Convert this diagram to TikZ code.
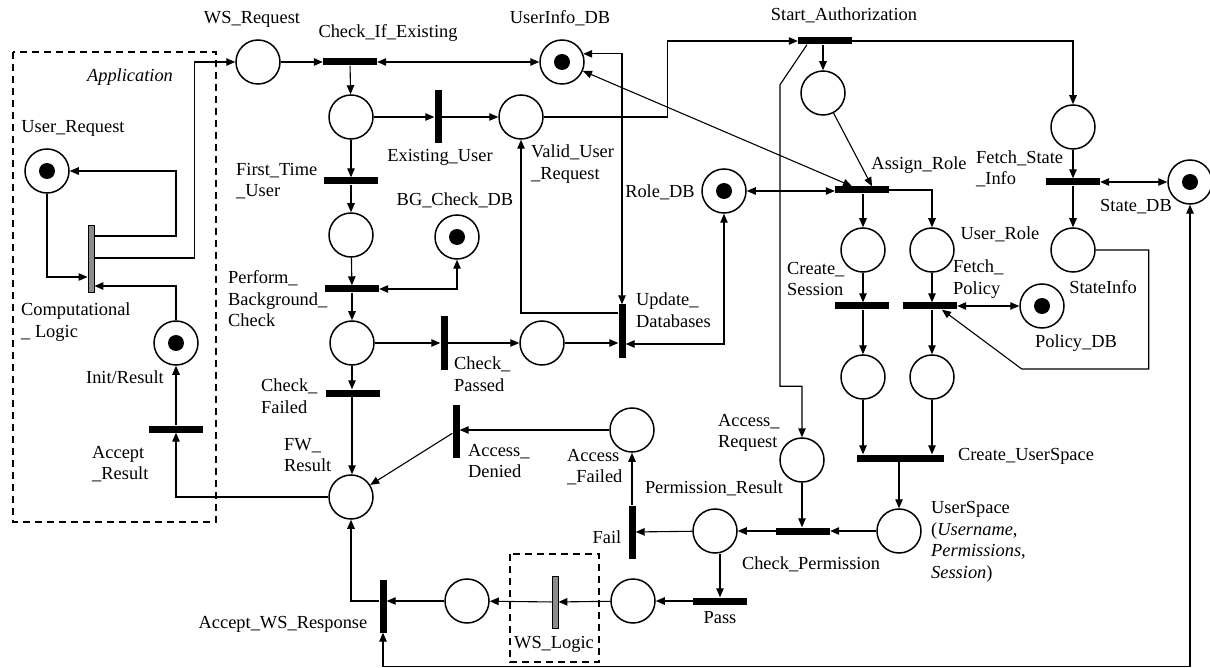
\documentclass[tikz,border=0pt]{standalone}
\usepackage{fontspec}
\setmainfont{Liberation Serif}
\usetikzlibrary{arrows.meta}
\begin{document}
\begin{tikzpicture}[x=1pt,y=-1pt,
  font=\fontsize{18.4}{21.5}\selectfont,
  plc/.style={circle,draw,line width=1.5pt,minimum size=44pt,inner sep=0pt},
  tok/.style={path picture={\fill (path picture bounding box.center) circle (8pt);}},
  htrans/.style={rectangle,fill=black,minimum width=54pt,minimum height=7pt,inner sep=0pt},
  vtrans/.style={rectangle,fill=black,minimum width=7pt,minimum height=53pt,inner sep=0pt},
  gtrans/.style={rectangle,fill=black!45,draw=black,line width=0.9pt,minimum width=6pt,minimum height=52pt,inner sep=0pt},
  flow/.style={line width=1.1pt,-{Triangle[length=9pt,width=7.5pt]}},
  dflow/.style={line width=1.1pt,{Triangle[length=9pt,width=7.5pt]}-{Triangle[length=9pt,width=7.5pt]}},
  lbl/.style={inner sep=0pt},
  lblw/.style={inner sep=0pt,anchor=west,align=left},
  dbox/.style={line width=1.3pt,dash pattern=on 7pt off 5pt}
]
\useasboundingbox[fill=white] (0,0) rectangle (1210,668);

% dashed boxes
\draw[dbox] (13,52) rectangle (216,522);
\draw[dbox] (510,554) rectangle (599,662);

% places
\node[plc] (pWS) at (258,62) {};
\node[plc,tok] (pUI) at (562,62) {};
\node[plc] (p2) at (351,117) {};
\node[plc] (pVU) at (521,117) {};
\node[plc] (p3) at (351,235) {};
\node[plc,tok] (pBG) at (457,237) {};
\node[plc] (p4) at (352,343) {};
\node[plc] (p11) at (542,343) {};
\node[plc,tok] (pRole) at (724,191) {};
\node[plc] (pFW) at (351,497) {};
\node[plc] (pAF) at (632,430) {};
\node[plc] (p14) at (823,93) {};
\node[plc] (pFS) at (1073,127) {};
\node[plc,tok] (pState) at (1190,182) {};
\node[plc] (pCS) at (863,250) {};
\node[plc] (pURole) at (932,250) {};
\node[plc] (pSI) at (1073,250) {};
\node[plc,tok] (pPol) at (1042,306) {};
\node[plc] (p21) at (863,377) {};
\node[plc] (p22) at (932,377) {};
\node[plc] (pUS) at (899,531) {};
\node[plc] (pAR) at (802,460) {};
\node[plc] (pPR) at (715,531) {};
\node[plc] (p26) at (633,601) {};
\node[plc] (p27) at (467,601) {};
\node[plc,tok] (pUReq) at (47,171) {};
\node[plc,tok] (pIR) at (176,343) {};

% transitions
\node[htrans] (tCIE) at (350,62) {};
\node[vtrans] (tEU) at (438,117) {};
\node[htrans] (tFTU) at (351,181) {};
\node[htrans] (tPBC) at (352,289) {};
\node[vtrans] (tCP) at (444,343) {};
\node[vtrans] (tUD) at (622,331) {};
\node[htrans] (tCF) at (353,393) {};
\node[vtrans] (tAD) at (456,431) {};
\node[htrans] (tSA) at (825,41) {};
\node[htrans] (tAR) at (862,190) {};
\node[htrans] (tFSI) at (1073,182) {};
\node[htrans] (tCS) at (862,306) {};
\node[htrans] (tFP) at (930,306) {};
\node[htrans,minimum width=87pt] (tCU) at (900,458) {};
\node[htrans] (tCPm) at (803,531) {};
\node[vtrans] (tFail) at (632,532) {};
\node[htrans] (tPass) at (720,601) {};
\node[gtrans] (tWS) at (555,602) {};
\node[vtrans] (tAWS) at (383,606) {};
\node[gtrans,minimum height=67pt] (tCL) at (91,259) {};
\node[htrans] (tAcR) at (176,429) {};

% arcs
\draw[flow] (pWS) -- (tCIE);
\draw[dflow] (tCIE) -- (pUI);
\draw[flow] (tCIE) -- (p2);
\draw[flow] (p2) -- (tEU);
\draw[flow] (tEU) -- (pVU);
\draw[flow] (p2) -- (tFTU);
\draw[flow] (tFTU) -- (p3);
\draw[flow] (p3) -- (tPBC);
\draw[dflow] (tPBC.east) -| (pBG.south);
\draw[flow] (tPBC) -- (p4);
\draw[flow] (p4) -- (tCP);
\draw[flow] (tCP) -- (p11);
\draw[flow] (p11) -- (p11 -| tUD.west);
\draw[flow] (p4) -- (p4 |- tCF.north);
\draw[flow] (p4 |- tCF.south) -- (p4 |- pFW.north);
\draw[flow] ([yshift=18pt]tUD.west) -| (pVU.south);
\draw[dflow] (pUI.21) -| (tUD.north);
\draw[dflow] ([yshift=-13pt]tUD.east) -| (pRole.south);
\draw[flow] (pVU.east) -| ([xshift=-130pt]tSA.west) -- (tSA.west);
\draw[dflow] (pUI) -- ([xshift=-10pt]tAR.north);
\draw[dflow] (pRole.east) -- (pRole.east -| tAR.west);
\draw[flow] (p14 |- tSA.south) -- (p14);
\draw[flow] (p14) -- ([xshift=10pt]tAR.north);
\draw[flow] ([xshift=-18pt]tSA.south) -- ++(-27,40) |- ([yshift=51pt]pAR.north) -- (pAR.north);
\draw[flow] (tSA.east) -| (pFS.north);
\draw[flow] (pFS) -- (tFSI);
\draw[dflow] (tFSI.east) -- (pState.west);
\draw[flow] (tFSI) -- (pSI);
\draw[flow] (pSI.east) -- ++(53,0) -- ++(0,119) -- ++(-127,0) -- ([xshift=12pt]tFP.south);
\draw[dflow] (tFP.east) -- (pPol.west);
\draw[flow] (pCS |- tAR.south) -- (pCS);
\draw[flow] (tAR.east) -| (pURole.north);
\draw[flow] (pCS) -- (pCS |- tCS.north);
\draw[flow] (pURole) -- (pURole |- tFP.north);
\draw[flow] (pCS |- tCS.south) -- (p21);
\draw[flow] (pURole |- tFP.south) -- (p22);
\draw[flow] (p21) -- (p21 |- tCU.north);
\draw[flow] (p22) -- (p22 |- tCU.north);
\draw[flow] (pUS |- tCU.south) -- (pUS);
\draw[flow] (pUS) -- (tCPm.east);
\draw[flow] (pAR) -- (pAR |- tCPm.north);
\draw[flow] (tCPm) -- (pPR);
\draw[flow] (pPR) -- (tFail);
\draw[flow] (tFail) -- (pAF);
\draw[flow] (pAF) -- (pAF -| tAD.east);
\draw[flow] (tAD) -- (pFW);
\draw[flow] (tPass.north |- pPR.south) -- (tPass.north);
\draw[flow] (tPass) -- (p26);
\draw[flow] (p26) -- (tWS);
\draw[flow] (tWS) -- (p27);
\draw[flow] (p27) -- (p27 -| tAWS.east);
\draw[flow] (p27 -| tAWS.west) -| (pFW.south);
\draw[dflow] (pState.south) -- ++(0,462) -| (tAWS.south);
\draw[flow] (pFW.west) -| (tAcR.south);
\draw[flow] (tAcR) -- (pIR);
\draw[flow] (pIR.north) |- ([yshift=-27pt]tCL.east);
\draw[flow] (pUReq.south) |- ([yshift=-18pt]tCL.west);
\draw[flow] ([yshift=23pt]tCL.east) -| (pIR |- pUReq) -- (pUReq);
\draw[flow] ([yshift=1pt]tCL.east) -| ([xshift=-41pt]pWS.west) -- (pWS.west);

% labels
\node[lbl] (lWS) at (252,19) {WS\_Request};
\node[lbl] (lCIE) at (388,33) {Check\_If\_Existing};
\node[lbl] (lUI) at (560,18) {UserInfo\_DB};
\node[lbl] (lSA) at (844,15) {Start\_Authorization};
\node[lbl] (lApp) at (130,77) {\textit{Application}};
\node[lbl] (lUReq) at (73,128) {User\_Request};
\node[lblw] (lFTU) at (236,181) {First\_Time\\\_User};
\node[lbl] (lEU) at (440,157) {Existing\_User};
\node[lblw] (lVU) at (531,164) {Valid\_User\\\_Request};
\node[lbl] (lBG) at (455,200) {BG\_Check\_DB};
\node[lbl] (lRole) at (660,192) {Role\_DB};
\node[lbl] (lAR) at (919,165) {Assign\_Role};
\node[lblw] (lFSI) at (976,169) {Fetch\_State\\\_Info};
\node[lbl] (lState) at (1136,207) {State\_DB};
\node[lbl] (lURole) at (1000,234) {User\_Role};
\node[lblw] (lCS) at (787,279) {Create\_\\Session};
\node[lblw] (lFP) at (953,279) {Fetch\_\\Policy};
\node[lbl] (lSI) at (1103,287) {StateInfo};
\node[lbl] (lPol) at (1076,343) {Policy\_DB};
\node[lbl] (lCU) at (1026,456) {Create\_UserSpace};
\node[lblw] (lPBC) at (228,299) {Perform\_\\Background\_\\Check};
\node[lblw] (lCL) at (21,322) {Computational\\\_ Logic};
\node[lbl] (lIR) at (125,377) {Init/Result};
\node[lblw] (lCF) at (261,396) {Check\_\\Failed};
\node[lblw] (lFW) at (284,455) {FW\_\\Result};
\node[lblw] (lAcR) at (92,464) {Accept\\\_Result};
\node[lblw] (lCP) at (454,374) {Check\_\\Passed};
\node[lblw] (lUD) at (636,310) {Update\_\\Databases};
\node[lblw] (lAD) at (468,461) {Access\_\\Denied};
\node[lblw] (lAF) at (567,467) {Access\\\_Failed};
\node[lblw] (lAReq) at (718,433) {Access\_\\Request};
\node[lbl] (lPR) at (714,488) {Permission\_Result};
\node[lbl] (lFail) at (607,537) {Fail};
\node[lbl] (lCPm) at (811,564) {Check\_Permission};
\node[lbl] (lPass) at (720,618) {Pass};
\node[lbl] (lWSL) at (554,644) {WS\_Logic};
\node[lbl] (lAWS) at (283,624) {Accept\_WS\_Response};
\node[lblw] (lUS) at (931,542) {UserSpace\\(\textit{Username},\\\textit{Permissions},\\\textit{Session})};
\end{tikzpicture}
\end{document}
